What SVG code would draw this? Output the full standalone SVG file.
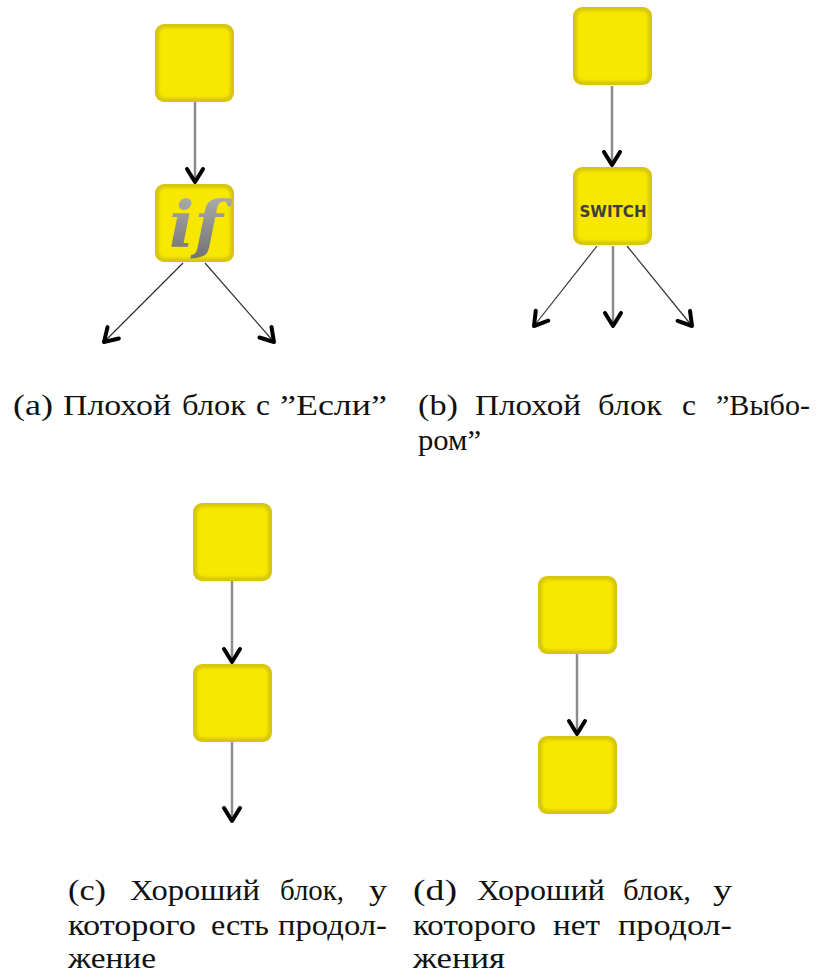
<svg xmlns="http://www.w3.org/2000/svg" width="821" height="978" viewBox="0 0 821 978">
  <style>
    .cap text { font-family: "Liberation Serif", "DejaVu Serif", serif; font-size: 29px; fill: #111; }
    .edge { stroke: #8c8c8c; stroke-width: 2.5; fill: none; }
    .edge-thin { stroke: #333; stroke-width: 1.2; fill: none; }
    .box-outer { fill: #d6c60e; }
    .box-inner { fill: #f8e800; filter: url(#soft); }
  </style>
  <defs>
    <filter id="soft" x="-10%" y="-10%" width="120%" height="120%">
      <feGaussianBlur stdDeviation="1.6"/>
    </filter>
    <linearGradient id="ifGrad" x1="0" y1="0" x2="0" y2="1">
      <stop offset="0" stop-color="#b4b4b4"/>
      <stop offset="1" stop-color="#707070"/>
    </linearGradient>
    <marker id="chev" markerUnits="userSpaceOnUse" markerWidth="30" markerHeight="30" refX="0" refY="0" orient="auto" overflow="visible">
      <path d="M-13,-8 L0,0 L-13,8" fill="none" stroke="#000" stroke-width="4" stroke-linecap="round" stroke-linejoin="round"/>
    </marker>
    <g id="block">
      <rect class="box-outer" x="0" y="0" width="79" height="78" rx="9"/>
      <rect class="box-inner" x="4" y="4" width="71" height="70" rx="6"/>
    </g>
  </defs>

  <!-- connectors -->
  <g id="connectors">
    <!-- (a) -->
    <line class="edge" x1="195" y1="102" x2="195" y2="182" marker-end="url(#chev)"/>
    <line class="edge-thin" x1="183" y1="263" x2="104" y2="342" marker-end="url(#chev)"/>
    <line class="edge-thin" x1="205" y1="263" x2="274" y2="342" marker-end="url(#chev)"/>
    <!-- (b) -->
    <line class="edge" x1="612" y1="86" x2="612" y2="165" marker-end="url(#chev)"/>
    <line class="edge-thin" x1="597" y1="246" x2="534" y2="326" marker-end="url(#chev)"/>
    <line class="edge" x1="613" y1="246" x2="613" y2="326" marker-end="url(#chev)"/>
    <line class="edge-thin" x1="627" y1="246" x2="692" y2="326" marker-end="url(#chev)"/>
    <!-- (c) -->
    <line class="edge" x1="232" y1="581" x2="232" y2="662" marker-end="url(#chev)"/>
    <line class="edge" x1="232" y1="742" x2="232" y2="821" marker-end="url(#chev)"/>
    <!-- (d) -->
    <line class="edge" x1="577" y1="654" x2="577" y2="734" marker-end="url(#chev)"/>
  </g>

  <!-- (a) bad block with "if" -->
  <g id="a-top"><use href="#block" x="155" y="24"/></g>
  <g id="a-if">
    <use href="#block" x="155" y="184"/>
    <text x="196" y="246" text-anchor="middle" font-family="DejaVu Serif, Liberation Serif, serif" font-style="italic" font-weight="bold" font-size="64" fill="url(#ifGrad)" textLength="54" lengthAdjust="spacingAndGlyphs">if</text>
  </g>

  <!-- (b) bad block with "switch" -->
  <g id="b-top"><use href="#block" x="573" y="7"/></g>
  <g id="b-switch">
    <use href="#block" x="573" y="167"/>
    <text x="613" y="217" text-anchor="middle" font-family="DejaVu Sans, sans-serif" font-weight="bold" font-size="15" fill="#3e3e3e" textLength="67" lengthAdjust="spacingAndGlyphs">SWITCH</text>
  </g>

  <!-- (c) good block with continuation -->
  <g id="c-top"><use href="#block" x="193" y="503"/></g>
  <g id="c-mid"><use href="#block" x="193" y="664"/></g>

  <!-- (d) good block without continuation -->
  <g id="d-top"><use href="#block" x="538" y="576"/></g>
  <g id="d-bottom"><use href="#block" x="538" y="736"/></g>

  <!-- captions -->
  <g id="caption-a" class="cap">
    <text x="13" y="415" textLength="40" lengthAdjust="spacingAndGlyphs">(a)</text>
    <text x="63" y="415" textLength="108" lengthAdjust="spacingAndGlyphs">Плохой</text>
    <text x="182" y="415" textLength="64" lengthAdjust="spacingAndGlyphs">блок</text>
    <text x="256" y="415" textLength="14" lengthAdjust="spacingAndGlyphs">с</text>
    <text x="280" y="415" textLength="107" lengthAdjust="spacingAndGlyphs">”Если”</text>
  </g>
  <g id="caption-b" class="cap">
    <text x="418" y="415" textLength="40" lengthAdjust="spacingAndGlyphs">(b)</text>
    <text x="475" y="415" textLength="106" lengthAdjust="spacingAndGlyphs">Плохой</text>
    <text x="598" y="415" textLength="64" lengthAdjust="spacingAndGlyphs">блок</text>
    <text x="682" y="415" textLength="14" lengthAdjust="spacingAndGlyphs">с</text>
    <text x="716" y="415" textLength="94" lengthAdjust="spacingAndGlyphs">”Выбо-</text>
    <text x="418" y="450" textLength="63" lengthAdjust="spacingAndGlyphs">ром”</text>
  </g>
  <g id="caption-c" class="cap">
    <text x="68" y="900" textLength="38" lengthAdjust="spacingAndGlyphs">(c)</text>
    <text x="130" y="900" textLength="130" lengthAdjust="spacingAndGlyphs">Хороший</text>
    <text x="280" y="900" textLength="64" lengthAdjust="spacingAndGlyphs">блок,</text>
    <text x="369" y="900" textLength="18" lengthAdjust="spacingAndGlyphs">у</text>
    <text x="68" y="935" textLength="128" lengthAdjust="spacingAndGlyphs">которого</text>
    <text x="211" y="935" textLength="58" lengthAdjust="spacingAndGlyphs">есть</text>
    <text x="278" y="935" textLength="109" lengthAdjust="spacingAndGlyphs">продол-</text>
    <text x="68" y="968" textLength="88" lengthAdjust="spacingAndGlyphs">жение</text>
  </g>
  <g id="caption-d" class="cap">
    <text x="413" y="900" textLength="44" lengthAdjust="spacingAndGlyphs">(d)</text>
    <text x="477" y="900" textLength="128" lengthAdjust="spacingAndGlyphs">Хороший</text>
    <text x="623" y="900" textLength="68" lengthAdjust="spacingAndGlyphs">блок,</text>
    <text x="713" y="900" textLength="19" lengthAdjust="spacingAndGlyphs">у</text>
    <text x="413" y="935" textLength="123" lengthAdjust="spacingAndGlyphs">которого</text>
    <text x="553" y="935" textLength="47" lengthAdjust="spacingAndGlyphs">нет</text>
    <text x="618" y="935" textLength="114" lengthAdjust="spacingAndGlyphs">продол-</text>
    <text x="413" y="968" textLength="92" lengthAdjust="spacingAndGlyphs">жения</text>
  </g>
</svg>
